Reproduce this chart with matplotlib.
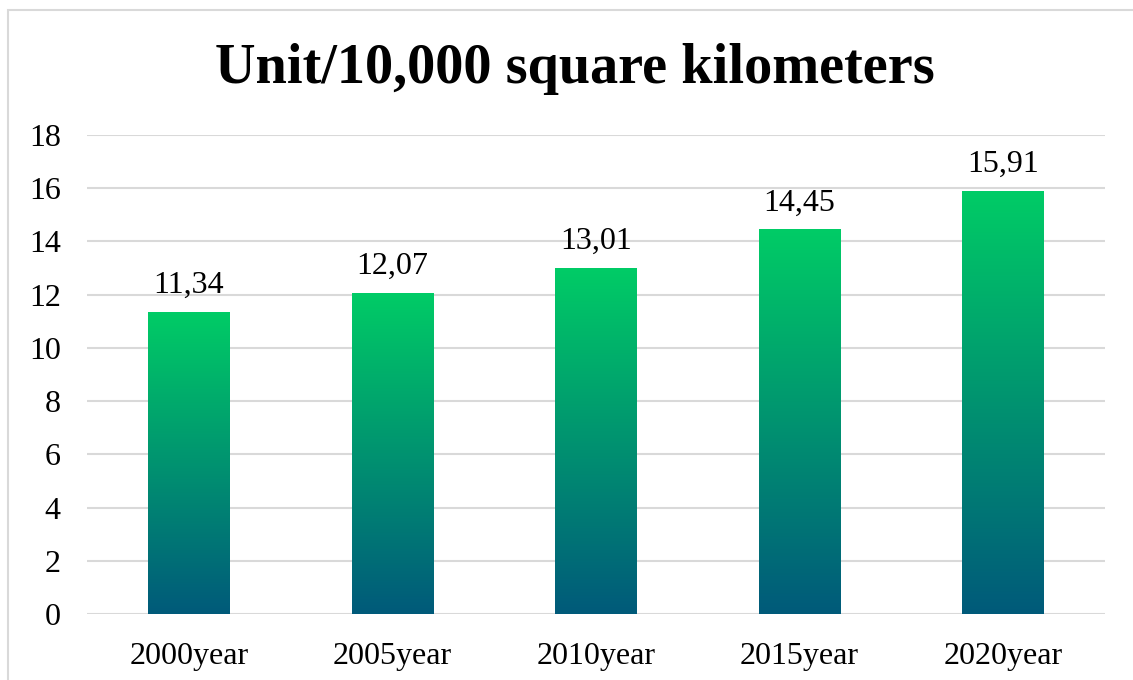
import numpy as np
import matplotlib.pyplot as plt
from matplotlib.colors import LinearSegmentedColormap
from matplotlib.patches import Rectangle

years = ["2000year", "2005year", "2010year", "2015year", "2020year"]
values = [11.34, 12.07, 13.01, 14.45, 15.91]
labels = ["11,34", "12,07", "13,01", "14,45", "15,91"]

plt.rcParams['font.family'] = ['Liberation Serif', 'DejaVu Serif']

fig = plt.figure(figsize=(11.33, 6.8), dpi=100)
ax = fig.add_axes([0.0768, 0.0971, 0.8985, 0.7044])

# outer chart frame (only top and left edges visible in the crop)
fig.patches.append(Rectangle((8 / 1133, -0.1), 1.2, 1.1 - 10 / 680,
                             transform=fig.transFigure, fill=False,
                             edgecolor='#d9d9d9', linewidth=1.5))

cmap = LinearSegmentedColormap.from_list('g', ['#005a7a', '#00cc66'])
grad = np.linspace(0, 1, 256).reshape(-1, 1)

x = np.arange(len(years))
bars = ax.bar(x, values, width=0.4, color='none', edgecolor='none', zorder=2)
for b in bars:
    x0, w, h = b.get_x(), b.get_width(), b.get_height()
    im = ax.imshow(grad, cmap=cmap, origin='lower', aspect='auto',
                   extent=(x0, x0 + w, 0, h), zorder=2)
    im.set_clip_path(b)

for xi, v, lab in zip(x, values, labels):
    ax.text(xi, v + 0.45, lab, ha='center', va='bottom', fontsize=23)

ax.set_xlim(-0.5, 4.5)
ax.set_ylim(0, 18)
ax.set_yticks(range(0, 19, 2))
ax.set_xticks(x)
ax.set_xticklabels(years)
ax.tick_params(axis='both', length=0, labelsize=23)
ax.tick_params(axis='y', pad=19)
ax.tick_params(axis='x', pad=20)
ax.grid(axis='y', color='#d9d9d9', linewidth=1.5, zorder=0)
ax.set_axisbelow(True)
for s in ax.spines.values():
    s.set_visible(False)

fig.text(0.507, 0.898, "Unit/10,000 square kilometers", ha='center', va='center',
         fontsize=40.5, fontweight='bold')

fig.savefig('out.png', dpi=100)
